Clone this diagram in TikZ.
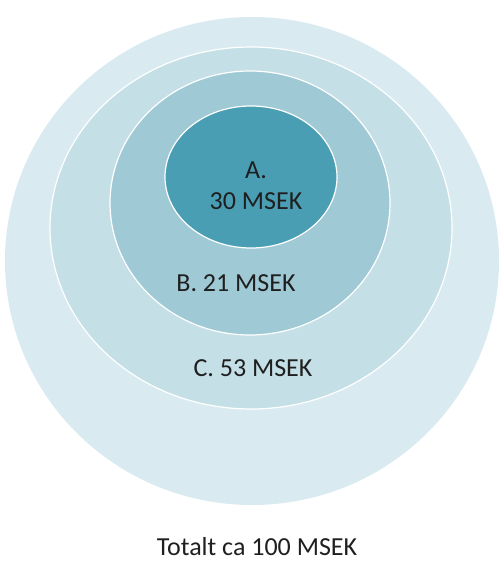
\documentclass[tikz,border=0pt]{standalone}
\usepackage{fontspec}
\setmainfont{Carlito}
\definecolor{ringout}{HTML}{D9EBF0}
\definecolor{ringc}{HTML}{C5DFE6}
\definecolor{ringb}{HTML}{A0C9D6}
\definecolor{ringa}{HTML}{4A9EB4}
\begin{document}
\begin{tikzpicture}[x=1pt, y=-1pt, font=\fontsize{26}{31}\selectfont]

\tikzstyle{ring} = [draw=white, line width=1.2pt]
\tikzstyle{labeltext} = [text=black!88, align=center, inner sep=0pt]

\useasboundingbox (0, 0) rectangle (499, 562);

% --- Ringar
\fill[ringout] (252, 261) ellipse (247 and 244);
\filldraw[ring, fill=ringc] (251, 228) ellipse (201 and 181);
\filldraw[ring, fill=ringb] (250, 203) ellipse (140 and 132);
\filldraw[ring, fill=ringa] (251, 177) ellipse (86 and 71);

% --- Texter
\node[labeltext] (a_label) at (256, 186) {A.\\30 MSEK};
\node[labeltext] (b_label) at (236, 283) {B. 21 MSEK};
\node[labeltext] (c_label) at (253, 368) {C. 53 MSEK};
\node[labeltext] (total) at (257, 547) {Totalt ca 100 MSEK};

\end{tikzpicture}
\end{document}
